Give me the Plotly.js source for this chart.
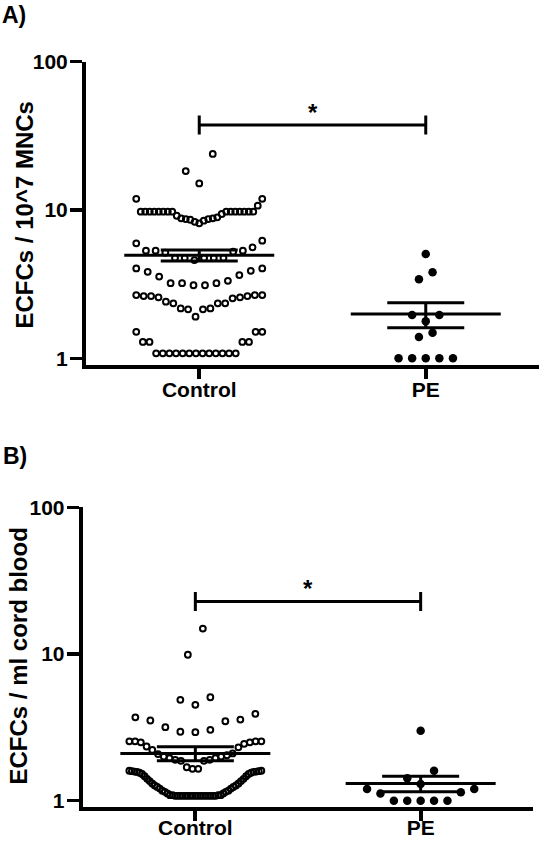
<!DOCTYPE html>
<html>
<head>
<meta charset="utf-8">
<script src="https://cdn.plot.ly/plotly-3.0.1.min.js"></script>
<style>html,body{margin:0;padding:0;background:#fff;}#chart{width:540px;height:841px;}</style>
</head>
<body>
<div id="chart"></div>
<script>
// ---------------- DATA ----------------
const categories = ['Control', 'PE'];

// Panel A: ECFCs / 10^7 MNCs
const controlA = [
  1.08,1.08,1.08,1.08,1.08,1.08,1.08,1.08,1.08,1.08,1.08,1.08,1.08,
  1.29,1.29,1.29,1.29, 1.51,1.51,1.51,
  1.91,2.14,2.14,2.17,2.17,2.35,2.35,2.35,2.41,2.54,2.58,2.58,2.63,2.63,2.63,2.67,2.67,2.67,
  3.11,3.11,3.21,3.21,3.21,3.33,3.56,3.64,3.83,3.89,4.04,4.04,
  4.6,4.75,4.75,4.75,4.75,4.75,5.15,5.23,5.32,5.32,5.32,5.6,5.96,6.21,
  8.13,8.33,8.47,8.6,8.69,8.69,8.79,8.79,8.92,9.15,9.4,
  9.74,9.74,9.74,9.74,9.74,9.74,9.74,9.74,9.74,9.74,9.74,9.74,9.74,9.74,9.74,
  10.7,11.9,11.9,
  15.1,18.3,23.9
];
const peA = [5.05,3.80,3.41,1.96,1.96,1.78,1.49,1.39,1.0,1.0,1.0,1.0,1.0];
const meanA = [4.95, 1.99];
const semA = [0.42, 0.38];
const sigBarA = 37.4;

// Panel B: ECFCs / ml cord blood
const controlB = [
  1.08,1.08,1.08,1.08,1.08,1.08,1.08,1.08,1.08,1.08,1.08,1.08,1.08,1.08,1.08,1.08,1.08,
  1.09,1.09,1.09,1.09,1.12,1.12,1.15,1.15,1.17,1.17,1.21,1.21,1.24,1.24,1.27,1.27,
  1.31,1.31,1.36,1.36,1.41,1.41,1.47,1.47,1.52,1.52,1.55,1.55,1.57,1.57,1.58,1.58,1.59,1.59,1.60,1.60,
  1.65,1.65,1.69,1.87,1.87,1.9,1.9,1.95,1.95,2.0,2.0,2.04,2.08,2.1,2.22,2.31,2.34,2.44,2.5,2.5,2.54,2.54,2.54,2.54,
  2.93,2.95,3.04,3.17,3.48,3.52,3.57,3.7,3.91,
  4.5,4.87,5.07,
  9.88,14.9
];
const peB = [3.0,1.6,1.42,1.3,1.2,1.2,1.14,1.12,1.0,1.0,1.0,1.0,1.0];
const meanB = [2.10, 1.31];
const semB = [0.23, 0.16];
const sigBarB = 22.8;

const yTickVals = [1, 10, 100];
const yTickText = ['1', '10', '100'];
const yTitleA = 'ECFCs / 10^7 MNCs';
const yTitleB = 'ECFCs / ml cord blood';
const panelLabels = ['A)', 'B)'];

// ---------------- LAYOUT GEOMETRY ----------------
const W = 540, H = 841;
const domA = {x: [86, 539], y: [61.7, 365]};
const domB = {x: [82.7, 533.3], y: [507.3, 806.7]};
const xRange = [-0.5, 1.5];
const pxPerUnitA = (domA.x[1] - domA.x[0]) / (xRange[1] - xRange[0]);
const pxPerUnitB = (domB.x[1] - domB.x[0]) / (xRange[1] - xRange[0]);
const FONT = 'Liberation Sans, Arial, Helvetica, sans-serif';

// Row-based scatter-dot layout (GraphPad-like): points are grouped in rows,
// each row is centred, lowest values in the middle, higher ones outwards.
function swarm(vals, breaks, center, spacingPx, maxWidthPx, pxPerUnit) {
  const rows = Array.from({length: breaks.length + 1}, () => []);
  vals.forEach(v => {
    let r = 0;
    while (r < breaks.length && v >= breaks[r]) r++;
    rows[r].push(v);
  });
  const xs = [], ys = [];
  rows.forEach(row => {
    if (!row.length) return;
    row.sort((a, b) => a - b);
    const n = row.length;
    const s = n > 1 ? Math.min(spacingPx, maxWidthPx / (n - 1)) : 0;
    const slots = Array.from({length: n}, (_, i) => (i - (n - 1) / 2) * s);
    slots.sort((a, b) => (Math.abs(a) - Math.abs(b)) || (a - b));
    row.forEach((v, k) => { xs.push(center + slots[k] / pxPerUnit); ys.push(v); });
  });
  return {x: xs, y: ys};
}

function meanSemTrace(means, sems, pxPerUnit, xa, ya) {
  const mh = 75 / pxPerUnit, sh = 38.5 / pxPerUnit;
  const x = [], y = [];
  means.forEach((m, i) => {
    const s = sems[i];
    x.push(i - mh, i + mh, null, i - sh, i + sh, null, i - sh, i + sh, null, i, i, null);
    y.push(m, m, null, m + s, m + s, null, m - s, m - s, null, m - s, m + s, null);
  });
  return {x, y, mode: 'lines', type: 'scatter', xaxis: xa, yaxis: ya,
    line: {color: '#000', width: 3}, hoverinfo: 'skip', connectgaps: false};
}

function sigTrace(yv, decadePx, xa, ya) {
  const f = Math.pow(10, 9.5 / decadePx);
  return {x: [0, 0, null, 0, 1, null, 1, 1], y: [yv / f, yv * f, null, yv, yv, null, yv / f, yv * f],
    mode: 'lines', type: 'scatter', xaxis: xa, yaxis: ya,
    line: {color: '#000', width: 3}, hoverinfo: 'skip'};
}

const openMarker = {symbol: 'circle-open', size: 5.8, color: '#000', line: {width: 2, color: '#000'}};
const fillMarker = {symbol: 'circle', size: 8.5, color: '#000'};

const cA = swarm(controlA, [1.7, 2.9, 4.3, 7, 13], 0, 13.5, 126, pxPerUnitA);
const pA = swarm(peA, [1.2, 1.65, 2.5, 4.4], 1, 13.6, 200, pxPerUnitA);
const cB = swarm(controlB, [1.62, 2.7, 4.2, 7], 0, 15, 132, pxPerUnitB);
const pB = swarm(peB, [1.25, 2.0], 1, 13.4, 200, pxPerUnitB);

const traces = [
  {x: cA.x, y: cA.y, mode: 'markers', type: 'scatter', xaxis: 'x', yaxis: 'y', marker: openMarker, name: categories[0]},
  {x: pA.x, y: pA.y, mode: 'markers', type: 'scatter', xaxis: 'x', yaxis: 'y', marker: fillMarker, name: categories[1]},
  meanSemTrace(meanA, semA, pxPerUnitA, 'x', 'y'),
  sigTrace(sigBarA, 148.3, 'x', 'y'),
  {x: cB.x, y: cB.y, mode: 'markers', type: 'scatter', xaxis: 'x2', yaxis: 'y2', marker: openMarker, name: categories[0]},
  {x: pB.x, y: pB.y, mode: 'markers', type: 'scatter', xaxis: 'x2', yaxis: 'y2', marker: fillMarker, name: categories[1]},
  meanSemTrace(meanB, semB, pxPerUnitB, 'x2', 'y2'),
  sigTrace(sigBarB, 146.5, 'x2', 'y2')
];

function xAxis(dom, anchor, standoff) {
  return {domain: [dom.x[0] / W, dom.x[1] / W], anchor, range: xRange, fixedrange: true,
    tickvals: [0, 1], ticktext: categories, ticks: 'outside', ticklen: 10, tickwidth: 4, tickcolor: '#000',
    ticklabelstandoff: standoff,
    showline: true, linewidth: 4, linecolor: '#000', showgrid: false, zeroline: false,
    tickfont: {family: FONT, size: 21, color: '#000', weight: 'bold'}};
}
function yAxis(dom, anchor, lo) {
  return {domain: [1 - dom.y[1] / H, 1 - dom.y[0] / H], anchor, type: 'log', range: [lo, 2], fixedrange: true,
    tickvals: yTickVals, ticktext: yTickText, ticks: 'outside', ticklen: 12, tickwidth: 3.5, tickcolor: '#000',
    ticklabelstandoff: -2,
    showline: true, linewidth: 4, linecolor: '#000', showgrid: false, zeroline: false,
    tickfont: {family: FONT, size: 21, color: '#000', weight: 'bold'}};
}

const boldFont = (s) => ({family: FONT, size: s, color: '#000', weight: 'bold'});

const layout = {
  width: W, height: H, margin: {l: 0, r: 0, t: 0, b: 0}, showlegend: false, hovermode: false,
  paper_bgcolor: '#fff', plot_bgcolor: '#fff',
  xaxis: xAxis(domA, 'y', -7), yaxis: yAxis(domA, 'x', -0.045),
  xaxis2: xAxis(domB, 'y2', -11), yaxis2: yAxis(domB, 'x2', -0.041),
  annotations: [
    {xref: 'paper', yref: 'paper', x: 0, y: 1 - 0 / H, xanchor: 'left', yanchor: 'top', text: panelLabels[0], showarrow: false, font: boldFont(23)},
    {xref: 'paper', yref: 'paper', x: 0.002, y: 1 - 441 / H, xanchor: 'left', yanchor: 'top', text: panelLabels[1], showarrow: false, font: boldFont(23)},
    {xref: 'paper', yref: 'paper', x: 23.5 / W, y: 1 - 215 / H, xanchor: 'center', yanchor: 'middle', textangle: -90, text: yTitleA, showarrow: false, font: boldFont(24)},
    {xref: 'paper', yref: 'paper', x: 17.5 / W, y: 1 - 656 / H, xanchor: 'center', yanchor: 'middle', textangle: -90, text: yTitleB, showarrow: false, font: boldFont(24)},
    {xref: 'x', yref: 'y', x: 0.5, y: Math.log10(sigBarA), yanchor: 'middle', yshift: 13, text: '*', showarrow: false, font: boldFont(24)},
    {xref: 'x2', yref: 'y2', x: 0.5, y: Math.log10(sigBarB), yanchor: 'middle', yshift: 13, text: '*', showarrow: false, font: boldFont(24)}
  ]
};

Plotly.newPlot('chart', traces, layout, {displayModeBar: false, staticPlot: true});
</script>
</body>
</html>
